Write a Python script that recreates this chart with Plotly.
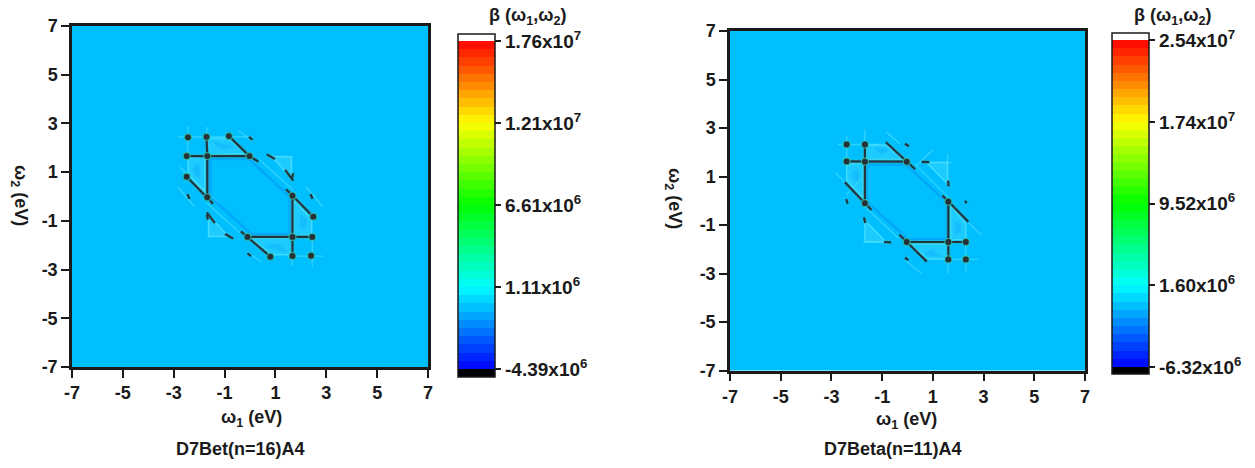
import plotly.graph_objects as go

W, H = 1255, 468
N = None

# ---- data ----
AXIS_TICKS = [-7, -5, -3, -1, 1, 3, 5, 7]
AXIS_LABELS = ["-7", "-5", "-3", "-1", "1", "3", "5", "7"]

A_TITLE = "D7Bet(n=16)A4"
A_RANGE = [-4.93e6, 1.807e7]
A_TICKS = [-4.39e6, 1.11e6, 6.61e6, 1.21e7, 1.76e7]
A_TICK_TEXT = ["-4.39x10<sup>6</sup>", "1.11x10<sup>6</sup>", "6.61x10<sup>6</sup>", "1.21x10<sup>7</sup>", "1.76x10<sup>7</sup>"]
A_BG = [[-3.0e5, -3.0e5], [-3.0e5, -3.0e5]]

B_TITLE = "D7Beta(n=11)A4"
B_RANGE = [-7.0e6, 2.608e7]
B_TICKS = [-6.32e6, 1.60e6, 9.52e6, 1.74e7, 2.54e7]
B_TICK_TEXT = ["-6.32x10<sup>6</sup>", "1.60x10<sup>6</sup>", "9.52x10<sup>6</sup>", "1.74x10<sup>7</sup>", "2.54x10<sup>7</sup>"]
B_BG = [[-4.0e5, -4.0e5], [-4.0e5, -4.0e5]]

# light triangular lobes
A_LOBE_X = [-1.64, -1.70, -0.13, -0.85, -1.64, N, -2.43, -1.77, -1.77, -2.43, -2.43, N, 1.64, 1.70, 0.05, 0.85, 1.64, N, 2.43, 1.72, 1.72, 2.43, 2.43, N, 0.85, 1.63, 1.63, 0.85, N, -0.85, -1.63, -1.63, -0.85]
A_LOBE_Y = [2.39, 1.70, 1.77, 2.39, 2.39, N, 1.57, 1.64, 0.13, 0.95, 1.57, N, -2.39, -1.70, -1.72, -2.39, -2.39, N, -1.57, -1.62, -0.13, -0.95, -1.57, N, 1.64, 1.64, 0.75, 1.64, N, -1.64, -1.64, -0.75, -1.64]
A_POCKET_X = [-1.45, -0.65, -1.1, -1.45, N, -2.2, -2.0, -2.0, -2.2, -2.2, N, 1.45, 0.65, 1.1, 1.45, N, 2.2, 2.0, 2.0, 2.2, 2.2]
A_POCKET_Y = [2.25, 2.05, 1.95, 2.25, N, 1.25, 1.3, 0.75, 1.0, 1.25, N, -2.25, -2.05, -1.95, -2.25, N, -1.25, -1.3, -0.75, -1.0, -1.25]
# faint cyan hairlines
A_FAINT_X = [-2.85, 0.1, N, -2.45, -2.45, N, -1.7, -1.7, N, -2.75, -1.2, N, -0.45, 0.1, N, 0.39, 1.7, N, -0.39, -1.7, N, -2.85, -2.2, N, 0.85, 1.63, 1.63, N, 2.85, 1.5, N, 2.45, 2.45, N, 1.65, 1.65, N, 0.45, -0.1, N, 2.85, 2.2, N, -0.85, -1.63, -1.63]
A_FAINT_Y = [2.45, 2.45, N, 2.9, 1.7, N, 2.85, 2.45, N, 1.2, -0.3, N, 2.7, 2.28, N, 1.5, 0.27, N, -1.5, -0.27, N, 0.4, -0.4, N, 1.64, 1.64, 0.75, N, -2.45, -2.45, N, -2.9, -1.7, N, -2.85, -2.45, N, -2.7, -2.28, N, -0.4, 0.4, N, -1.64, -1.64, -0.75]
# dark-blue rim around the central lens
A_RIM_X = [-1.56, -1.56, -0.05, 1.56, 1.56, 0.05, -1.56]
A_RIM_Y = [0.0, 1.54, 1.54, 0.0, -1.54, -1.54, 0.0]
# dark ridges
A_RIDGE_X = [-1.68, -1.68, N, -2.49, -1.68, -0.02, N, -0.83, -0.02, 0.33, N, -2.49, -1.68, -1.45, N, 1.67, 1.67, N, 2.45, 1.67, -0.10, N, 0.80, -0.10, -0.36, N, 2.49, 1.67, 1.42, N, -1.71, -1.68, N, 1.67, 1.67, N, 0.66, 0.98, N, 1.38, 1.70, N, -0.98, -0.66, N, -1.70, -1.38, N, -0.04, 0.10, N, 0.04, -0.10, N, -2.46, -2.38, N, 2.46, 2.38, N, -1.70, -1.65, N, 1.70, 1.65]
A_RIDGE_Y = [1.66, -0.03, N, 1.66, 1.66, 1.66, N, 2.48, 1.66, 1.43, N, 0.81, -0.03, -0.30, N, -1.66, 0.03, N, -1.66, -1.66, -1.66, N, -2.47, -1.66, -1.43, N, -0.83, 0.03, 0.30, N, 2.45, 1.66, N, -2.44, -1.66, N, 1.73, 1.54, N, 1.09, 0.65, N, -1.54, -1.73, N, -0.65, -1.09, N, 2.45, 2.33, N, -2.45, -2.33, N, 0.10, -0.10, N, -0.10, 0.10, N, -0.75, -0.95, N, 0.95, 0.75]
A_NODE_X = [-2.44, -1.71, -2.49, -1.68, -0.02, -1.68, -0.83, 2.40, 1.67, 2.45, 1.67, -0.10, 1.67, 0.80, 2.49, -2.49]
A_NODE_Y = [2.43, 2.45, 1.66, 1.66, 1.66, -0.03, 2.48, -2.43, -2.44, -1.66, -1.66, -1.66, 0.03, -2.47, -0.83, 0.81]

B_LOBE_X = [-1.65, -1.65, -0.2, -0.85, -1.65, N, -2.4, -1.75, -1.75, -2.4, -2.4, N, 1.6, 1.6, 0.1, 0.8, 1.6, N, 2.3, 1.7, 1.7, 2.3, 2.3, N, 0.75, 1.58, 1.58, 0.75, N, -0.85, -1.68, -1.68, -0.85]
B_LOBE_Y = [2.3, 1.7, 1.7, 2.3, 2.3, N, 1.52, 1.55, 0.1, 0.85, 1.52, N, -2.4, -1.78, -1.78, -2.4, -2.4, N, -1.6, -1.63, -0.2, -0.95, -1.6, N, 1.58, 1.58, 0.7, 1.58, N, -1.7, -1.7, -0.8, -1.7]
B_POCKET_X = [-1.3, -0.75, -1.0, -1.3, N, -2.15, -1.95, -1.95, -2.15, -2.15, N, 1.3, 0.7, 0.95, 1.3, N, 2.1, 1.9, 1.9, 2.1, 2.1]
B_POCKET_Y = [2.2, 2.1, 1.95, 2.2, N, 1.2, 1.25, 0.75, 0.95, 1.2, N, -2.3, -2.2, -2.05, -2.3, N, -1.3, -1.35, -0.85, -1.05, -1.3]
B_FAINT_X = [-2.75, -1.1, N, -2.4, -2.4, N, -1.68, -1.68, N, -2.85, -1.7, N, -0.85, -0.3, N, 0.3, 1.6, N, -0.35, -1.68, N, 1.58, 1.58, N, 0.75, 1.75, N, -1.75, -0.75, N, 1.6, 2.8, N, 2.3, 2.3, N, 1.6, 1.6, N, 2.4, 2.9, N, -0.1, 0.55, N, -2.4, -1.9, N, 0.35, 1.0]
B_FAINT_Y = [2.32, 2.32, N, 2.7, 1.62, N, 2.95, 2.32, N, 1.15, 0.0, N, 2.85, 2.35, N, 1.5, 0.15, N, -1.55, -0.25, N, 1.9, 0.6, N, 1.58, 1.58, N, -1.7, -1.7, N, -2.42, -2.42, N, -2.9, -1.7, N, -3.0, -2.42, N, -0.9, -1.4, N, -2.45, -3.0, N, 0.25, 0.85, N, 1.45, 2.1]
B_RIM_X = [-1.6, -1.6, -0.08, 1.55, 1.55, 0.02, -1.6]
B_RIM_Y = [-0.05, 1.5, 1.5, -0.05, -1.58, -1.58, -0.05]
B_RIDGE_X = [-1.68, -1.68, N, -2.40, -1.68, -0.03, N, -0.85, -0.03, 0.3, N, -2.47, -1.68, -1.42, N, 1.61, 1.61, N, 2.3, 1.61, -0.03, N, 0.76, -0.03, -0.32, N, 2.40, 1.61, 1.38, N, -1.68, -1.68, N, 1.61, 1.61, N, 0.56, 0.86, N, 1.6, 1.62, N, -0.93, -0.65, N, -1.72, -1.66, N, -0.10, 0.06, N, -0.10, 0.03, N, -2.42, -2.36, N, 2.27, 2.33]
B_RIDGE_Y = [1.61, -0.10, N, 1.62, 1.61, 1.61, N, 2.41, 1.61, 1.30, N, 0.76, -0.10, -0.38, N, -1.70, -0.04, N, -1.70, -1.70, -1.70, N, -2.51, -1.70, -1.40, N, -0.87, -0.04, 0.22, N, 2.32, 1.61, N, -2.42, -1.70, N, 1.60, 1.59, N, 0.83, 0.59, N, -1.70, -1.72, N, -0.69, -0.92, N, 2.35, 2.25, N, -2.35, -2.45, N, 0.07, -0.12, N, 0.0, -0.10]
B_NODE_X = [-2.40, -1.68, -2.40, -1.68, -0.03, -1.68, 1.61, 2.30, 2.30, 1.61, -0.03, 1.61]
B_NODE_Y = [2.32, 2.32, 1.62, 1.61, 1.61, -0.10, -2.42, -2.42, -1.70, -1.70, -1.70, -0.04]

# ---- styles ----
STOPS = [(0.0, (0, 0, 255)), (0.25, (0, 255, 255)), (0.5, (0, 255, 0)), (0.75, (255, 255, 0)), (1.0, (255, 0, 0))]
NBANDS = 40
INK = "#1a1a1a"
SANS = "Liberation Sans, Arial, sans-serif"


def band(t):
    for (a, ca), (b, cb) in zip(STOPS, STOPS[1:]):
        if t <= b:
            f = (t - a) / (b - a)
            return "rgb(%d,%d,%d)" % tuple(round(p + (q - p) * f) for p, q in zip(ca, cb))
    return "rgb(255,0,0)"


def scale(lo, hi, zmin, zmax):
    f0 = (lo - zmin) / (zmax - zmin)
    f1 = (hi - zmin) / (zmax - zmin)
    cs = [[0, "black"], [f0, "black"]]
    for i in range(NBANDS):
        a = f0 + (f1 - f0) * i / NBANDS
        b = f0 + (f1 - f0) * (i + 1) / NBANDS
        c = band((i + 0.5) / NBANDS)
        cs += [[a, c], [b, c]]
    cs += [[f1, "white"], [1, "white"]]
    return cs


BAR_TICK = dict(family=SANS, size=19, color=INK, weight="bold")
AX_TICK = dict(family=SANS, size=18, color=INK, weight="bold")

fig = go.Figure()


def panel(xa, ya, rng, ticks, tick_text, bg, cb_left, cb_top, cb_len,
          lobe_x, lobe_y, pocket_x, pocket_y, faint_x, faint_y, rim_x, rim_y,
          ridge_x, ridge_y, node_x, node_y):
    fig.add_trace(go.Heatmap(
        x=[-7, 7], y=[-7, 7], z=bg, xaxis=xa, yaxis=ya, zmin=rng[0], zmax=rng[1],
        colorscale=scale(ticks[0], ticks[-1], rng[0], rng[1]), hoverinfo="skip",
        colorbar=dict(
            x=cb_left / W, xanchor="left", xpad=0, y=1 - cb_top / H, yanchor="top", ypad=0,
            thickness=37, thicknessmode="pixels", len=cb_len, lenmode="pixels",
            outlinewidth=1.5, outlinecolor=INK, tickvals=ticks, ticktext=tick_text,
            ticks="outside", ticklen=6, tickwidth=1.5, tickcolor=INK, tickfont=BAR_TICK)))

    def ln(x, y, color, width, fill=None, fillcolor=None):
        fig.add_trace(go.Scatter(x=x, y=y, xaxis=xa, yaxis=ya, mode="lines", showlegend=False,
                                 hoverinfo="skip", fill=fill, fillcolor=fillcolor,
                                 line=dict(color=color, width=width)))

    ln(lobe_x, lobe_y, "rgba(70,225,255,0.85)", 1.5, "toself", "rgba(60,215,255,0.5)")
    ln(pocket_x, pocket_y, "rgba(20,185,252,0.4)", 3, "toself", "rgba(20,185,252,0.75)")
    ln(faint_x, faint_y, "rgba(70,220,255,0.7)", 1.3)
    ln(rim_x, rim_y, "rgba(0,140,245,0.45)", 2.5)
    ln(ridge_x, ridge_y, "rgba(40,190,190,0.5)", 4.2)
    ln(ridge_x, ridge_y, "rgb(38,52,66)", 2.2)
    fig.add_trace(go.Scatter(x=node_x, y=node_y, xaxis=xa, yaxis=ya, mode="markers", showlegend=False,
                             hoverinfo="skip", marker=dict(color="rgb(38,48,58)", size=7,
                                                           line=dict(color="rgba(50,200,170,0.75)", width=1.2))))


panel("x", "y", A_RANGE, A_TICKS, A_TICK_TEXT, A_BG, 458.5, 34, 343,
      A_LOBE_X, A_LOBE_Y, A_POCKET_X, A_POCKET_Y, A_FAINT_X, A_FAINT_Y, A_RIM_X, A_RIM_Y,
      A_RIDGE_X, A_RIDGE_Y, A_NODE_X, A_NODE_Y)
panel("x2", "y2", B_RANGE, B_TICKS, B_TICK_TEXT, B_BG, 1111.5, 33, 341,
      B_LOBE_X, B_LOBE_Y, B_POCKET_X, B_POCKET_Y, B_FAINT_X, B_FAINT_Y, B_RIM_X, B_RIM_Y,
      B_RIDGE_X, B_RIDGE_Y, B_NODE_X, B_NODE_Y)

AXIS = dict(range=[-7, 7], tickmode="array", tickvals=AXIS_TICKS, ticktext=AXIS_LABELS, ticks="outside",
            ticklen=8, tickwidth=2, tickcolor=INK, showline=True, linewidth=2.5, linecolor=INK,
            mirror=True, showgrid=False, zeroline=False, tickfont=AX_TICK)

fig.update_layout(
    width=W, height=H, margin=dict(l=0, r=0, t=0, b=0, autoexpand=False),
    paper_bgcolor="white", plot_bgcolor="white", showlegend=False,
    xaxis=dict(domain=[72 / W, 428 / W], anchor="y", **AXIS),
    yaxis=dict(domain=[1 - 367 / H, 1 - 26 / H], anchor="x", **AXIS),
    xaxis2=dict(domain=[730 / W, 1085 / W], anchor="y2", **AXIS),
    yaxis2=dict(domain=[1 - 370.5 / H, 1 - 31 / H], anchor="x2", **AXIS),
)


def note(x, y, text, size=18, angle=0):
    fig.add_annotation(x=x / W, y=1 - y / H, xref="paper", yref="paper", text="<b>%s</b>" % text,
                       showarrow=False, textangle=angle, xanchor="center", yanchor="middle",
                       font=dict(family=SANS, size=size, color=INK))


OMEGA1 = "ω<sub>1</sub> (eV)"
OMEGA2 = "ω<sub>2</sub> (eV)"
note(251, 418, OMEGA1)
note(240, 449, A_TITLE)
note(906, 420, OMEGA1)
note(893, 449, B_TITLE)
note(20, 195, OMEGA2, angle=90)
note(674, 199, OMEGA2, angle=90)
note(527, 17, "β (ω<sub>1</sub>,ω<sub>2</sub>)", size=18)
note(1172, 17, "β (ω<sub>1</sub>,ω<sub>2</sub>)", size=18)

fig.write_html("out.html", config=dict(displayModeBar=False),
               post_script="document.body.style.margin='0';document.body.style.overflow='hidden';")
